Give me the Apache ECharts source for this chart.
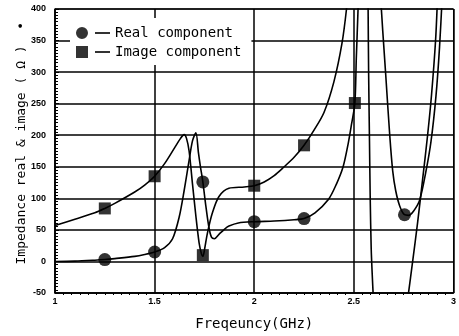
<!DOCTYPE html>
<html>
<head>
<meta charset="utf-8">
<script src="https://cdn.jsdelivr.net/npm/echarts@6/dist/echarts.min.js"></script>
<style>
html,body{margin:0;padding:0;background:#fff;}
#chart{width:459px;height:336px;}
</style>
</head>
<body>
<div id="chart"></div>
<script>
// ---- tick labels ----
const xTickLabels = ['1', '1.5', '2', '2.5', '3'];
const yTickLabels = ['-50', '0', '50', '100', '150', '200', '250', '300', '350', '400'];

// ---- series names ----
const seriesNames = ['Real component', 'Image component'];

// ---- marker points (frequency GHz, ohm) ----
const realMarkFreq = [1.25, 1.5, 1.742, 2.0, 2.25, 2.754];
const realMarkVal  = [3, 15, 126, 63, 68, 74];
const imageMarkFreq = [1.25, 1.5, 1.742, 2.0, 2.25, 2.505];
const imageMarkVal  = [84, 135, 10, 120, 184, 251];

// ---- curve points (frequency GHz, ohm) ----
const realCurve1 = [[1.0,0],[1.1,0.5],[1.2,2],[1.25,3],[1.3,4.5],[1.4,8],[1.45,11],[1.5,15],[1.55,22],[1.59,36],[1.623,70],[1.648,112],[1.673,160],[1.69,191],[1.707,204],[1.72,172],[1.73,150],[1.742,126],[1.757,88],[1.773,53],[1.786,38],[1.8,36],[1.823,43],[1.85,51],[1.873,56],[1.92,61],[2.0,63],[2.1,64],[2.2,66],[2.25,68],[2.305,77],[2.372,98],[2.413,123],[2.446,150],[2.471,186],[2.488,217],[2.505,251],[2.512,320],[2.521,400],[2.525,450]];
const realCurve2 = [[2.632,430],[2.645,365],[2.66,295],[2.68,200],[2.695,143],[2.71,112],[2.73,88],[2.754,74],[2.775,73],[2.8,80],[2.83,97],[2.86,140],[2.887,190],[2.912,262],[2.93,340],[2.945,430]];
const imageCurve1 = [[1.0,57],[1.1,67],[1.2,77],[1.25,84],[1.3,92],[1.4,110],[1.45,121],[1.5,135],[1.55,155],[1.6,180],[1.63,195],[1.648,201],[1.66,195],[1.673,175],[1.69,123],[1.707,72],[1.723,30],[1.735,12],[1.742,8],[1.75,18],[1.765,45],[1.79,77],[1.823,103],[1.873,116],[1.95,118],[2.0,120],[2.05,126],[2.1,136],[2.15,150],[2.2,165],[2.25,184],[2.3,208],[2.35,236],[2.4,285],[2.44,345],[2.463,400],[2.47,430]];
const imageCurve2 = [[2.571,420],[2.574,300],[2.578,200],[2.582,100],[2.587,20],[2.592,-20],[2.598,-60]];
const imageCurve3 = [[2.77,-60],[2.795,0],[2.82,62],[2.845,130],[2.87,200],[2.89,265],[2.91,350],[2.92,420]];

const zip = (a, b) => a.map((v, i) => [v, b[i]]);

const chart = echarts.init(document.getElementById('chart'), null, {renderer: 'canvas'});

const circleIcon = 'path://M0,6A6,6,0,1,1,12,6A6,6,0,1,1,0,6Z M19,5L34,5L34,7L19,7Z';
const squareIcon = 'path://M0,0L12,0L12,12L0,12Z M19,5L34,5L34,7L19,7Z';

function curve(data) {
  return {
    type: 'line', data: data, smooth: 0.3, showSymbol: false, symbol: 'none',
    silent: true, legendHoverLink: false,
    lineStyle: {color: '#000', width: 1.6}, z: 3, clip: true
  };
}

chart.setOption({
  animation: false,
  backgroundColor: '#fff',
  grid: {left: 55, right: 2, top: 9, bottom: 38, show: true, borderColor: '#000', borderWidth: 1},
  legend: {
    orient: 'vertical', left: 70, top: 18,
    backgroundColor: '#fff', padding: [8, 10, 6, 6], itemGap: 5,
    itemWidth: 34, itemHeight: 12,
    data: [
      {name: seriesNames[0], icon: circleIcon},
      {name: seriesNames[1], icon: squareIcon}
    ],
    textStyle: {fontFamily: 'DejaVu Sans Mono', fontSize: 14, color: '#000', padding: [0,0,0,0]},
    selectedMode: false, z: 10
  },
  xAxis: {
    type: 'value', min: 1, max: 3, interval: 0.5,
    name: 'Freqeuncy(GHz)', nameLocation: 'middle', nameGap: 24,
    nameTextStyle: {fontFamily: 'DejaVu Sans Mono', fontSize: 14, color: '#000'},
    axisLine: {show: true, onZero: false, lineStyle: {color: '#000', width: 1.5}},
    axisTick: {show: false},
    minorTick: {show: true, splitNumber: 12, length: 2, lineStyle: {color: '#000', width: 1}},
    splitLine: {show: true, lineStyle: {color: '#000', width: 1.5}},
    axisLabel: {
      margin: 4, fontFamily: 'Liberation Sans', fontWeight: 'bold', fontSize: 9, color: '#000',
      formatter: v => xTickLabels[Math.round((v - 1) / 0.5)]
    }
  },
  yAxis: {
    type: 'value', min: -50, max: 400, interval: 50,
    name: '  Impedance real & image ( \u03A9 )  \u2022', nameLocation: 'middle', nameGap: 27,
    nameMoveOverlap: false,
    nameTextStyle: {fontFamily: 'DejaVu Sans Mono', fontSize: 13, color: '#000'},
    axisLine: {show: true, onZero: false, lineStyle: {color: '#000', width: 1.5}},
    axisTick: {show: true, inside: true, length: 4, lineStyle: {color: '#000'}},
    minorTick: {show: true, splitNumber: 10, length: 3, lineStyle: {color: '#000', width: 1}},
    splitLine: {show: true, lineStyle: {color: '#000', width: 1.5}},
    axisLabel: {
      margin: 9, fontFamily: 'Liberation Sans', fontWeight: 'bold', fontSize: 9, color: '#000',
      formatter: v => yTickLabels[Math.round((v + 50) / 50)]
    }
  },
  series: [
    curve(realCurve1), curve(realCurve2),
    curve(imageCurve1), curve(imageCurve2), curve(imageCurve3),
    {name: seriesNames[0], type: 'scatter', symbol: 'circle', symbolSize: 13,
     itemStyle: {color: '#000'}, data: zip(realMarkFreq, realMarkVal), z: 5},
    {name: seriesNames[1], type: 'scatter', symbol: 'rect', symbolSize: 12,
     itemStyle: {color: '#000'}, data: zip(imageMarkFreq, imageMarkVal), z: 5}
  ]
});
</script>
</body>
</html>
